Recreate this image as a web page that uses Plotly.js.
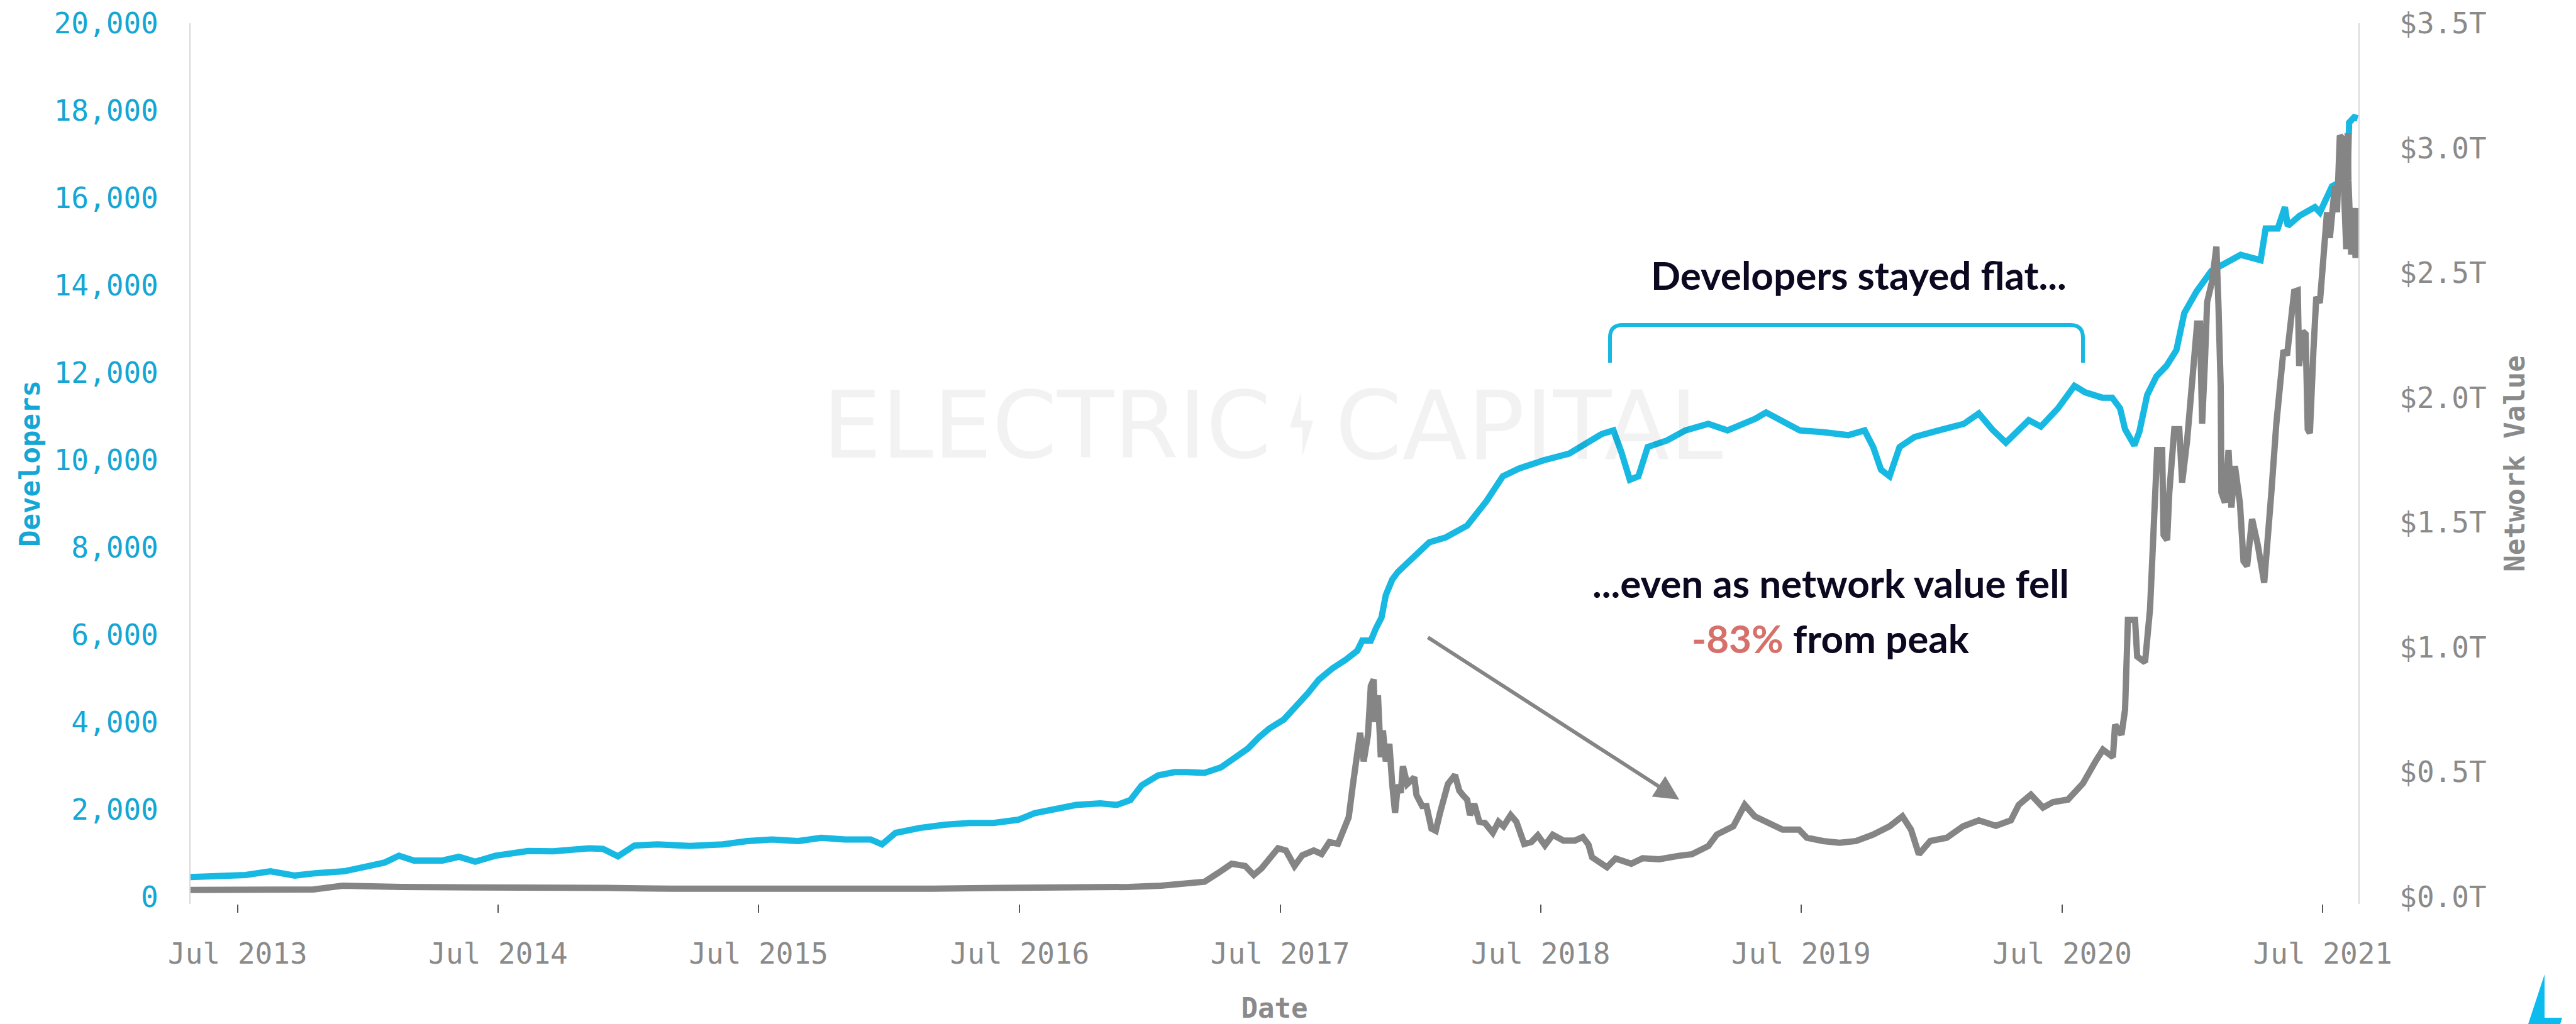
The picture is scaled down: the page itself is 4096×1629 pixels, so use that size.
<!DOCTYPE html>
<html>
<head>
<meta charset="utf-8">
<script src="https://cdn.plot.ly/plotly-3.0.1.min.js"></script>
<style>html,body{margin:0;padding:0;background:#fff;}#chart{width:4096px;height:1629px;}</style>
</head>
<body>
<div id="chart"></div>
<script>
// ---- Developers (monthly active developers) ----
const devDates = [
'2013-04-26','2013-05-20','2013-06-08','2013-07-12','2013-08-16','2013-09-19','2013-10-18','2013-11-27',
'2014-01-01','2014-01-23','2014-02-12','2014-03-05','2014-04-14','2014-05-07','2014-05-30','2014-06-27',
'2014-08-12','2014-09-16','2014-11-06','2014-11-25','2014-12-16','2015-01-08','2015-02-09','2015-03-27',
'2015-05-12','2015-06-15','2015-07-20','2015-08-25','2015-09-27','2015-10-30','2015-12-05','2015-12-21',
'2016-01-09','2016-02-12','2016-03-18','2016-04-21','2016-05-25','2016-06-29','2016-07-22','2016-08-14',
'2016-09-18','2016-10-22','2016-11-14','2016-12-03','2016-12-19','2017-01-11','2017-02-03','2017-02-19',
'2017-03-17','2017-04-09','2017-04-24','2017-05-17','2017-06-01','2017-06-16','2017-07-06','2017-07-21',
'2017-08-09','2017-08-24','2017-09-12','2017-10-01','2017-10-17','2017-10-24','2017-11-05','2017-11-12',
'2017-11-20','2017-11-26','2017-12-05','2017-12-13','2017-12-24','2018-01-05','2018-01-26','2018-02-18',
'2018-03-20','2018-04-16','2018-05-09','2018-06-01','2018-07-06','2018-08-10','2018-09-02','2018-09-25',
'2018-10-11','2018-10-22','2018-11-03','2018-11-15','2018-11-28','2018-12-25','2019-01-20','2019-02-21',
'2019-03-20','2019-04-27','2019-05-13','2019-06-06','2019-06-29','2019-08-01','2019-09-05','2019-09-28',
'2019-10-10','2019-10-21','2019-11-02','2019-11-16','2019-12-07','2020-01-10','2020-02-14','2020-03-06',
'2020-03-25','2020-04-13','2020-05-15','2020-06-01','2020-06-25','2020-07-18','2020-08-02','2020-08-26',
'2020-09-09','2020-09-20','2020-09-27','2020-10-10','2020-10-17','2020-10-28','2020-11-10','2020-11-24',
'2020-12-08','2020-12-19','2021-01-05','2021-01-26','2021-02-15','2021-03-08','2021-04-05','2021-04-12',
'2021-04-29','2021-05-09','2021-05-13','2021-05-30','2021-06-20','2021-06-27','2021-07-14','2021-07-28',
'2021-08-05','2021-08-07','2021-08-14','2021-08-19'
];
const devValues = [
455,470,490,502,588,490,543,588,
710,788,943,833,833,919,808,943,
1053,1045,1115,1100,931,1176,1203,1166,
1203,1278,1316,1278,1354,1316,1316,1203,
1466,1579,1654,1692,1692,1767,1918,1993,
2106,2143,2106,2218,2557,2782,2858,2858,
2842,2965,3148,3400,3650,3859,4060,4312,
4667,4973,5230,5432,5635,5868,5868,6143,
6398,6909,7264,7440,7620,7800,8120,8230,
8500,9060,9630,9810,10000,10150,10380,10600,
10680,10190,9550,9630,10300,10450,10680,10830,
10680,10940,11090,10870,10680,10640,10570,10680,
10300,9780,9630,10300,10530,10680,10830,11068,
10700,10400,10915,10768,11184,11700,11552,11429,
11429,11184,10706,10339,10645,11490,11919,12157,
12520,13365,13855,14333,14516,14700,14577,15300,
15300,15790,15360,15600,15790,15670,16268,16390,
16513,17726,17850,17825
];

// ---- Network value (trillions USD) ----
const netDates = [
'2013-04-26','2013-07-01','2013-10-15','2013-11-25','2013-12-20','2014-02-15','2014-06-01','2014-09-01',
'2014-12-01','2015-03-01','2015-06-01','2015-09-01','2015-12-01','2016-03-01','2016-06-01','2016-09-01',
'2016-12-01','2017-01-15','2017-02-15','2017-03-17','2017-04-05','2017-04-24','2017-05-13','2017-05-25',
'2017-06-05','2017-06-16','2017-06-28','2017-07-09','2017-07-21','2017-08-01','2017-08-17','2017-08-28',
'2017-09-08','2017-09-20','2017-09-27','2017-10-05','2017-10-11','2017-10-17','2017-10-21','2017-10-26',
'2017-11-01','2017-11-05','2017-11-09','2017-11-11','2017-11-15','2017-11-19','2017-11-22','2017-11-26',
'2017-12-01','2017-12-05','2017-12-09','2017-12-13','2017-12-17','2017-12-20','2017-12-26','2018-01-05',
'2018-01-08','2018-01-16','2018-01-22','2018-01-29','2018-02-04','2018-02-10','2018-02-16','2018-02-21',
'2018-03-03','2018-03-09','2018-03-14','2018-03-20','2018-03-24','2018-03-30','2018-04-06','2018-04-14',
'2018-04-25','2018-05-03','2018-05-10','2018-05-20','2018-05-28','2018-06-08','2018-06-18','2018-06-27',
'2018-07-07','2018-07-18','2018-08-02','2018-08-18','2018-08-29','2018-09-06','2018-09-11','2018-09-21',
'2018-10-02','2018-10-14','2018-10-25','2018-11-05','2018-11-21','2018-12-14','2019-01-11','2019-01-29',
'2019-02-21','2019-03-05','2019-03-28','2019-04-13','2019-04-27','2019-05-13','2019-06-05','2019-06-28',
'2019-07-09','2019-08-01','2019-08-24','2019-09-16','2019-10-10','2019-11-02','2019-11-20','2019-12-02',
'2019-12-13','2019-12-29','2020-01-21','2020-02-13','2020-03-06','2020-03-30','2020-04-20','2020-05-01',
'2020-05-18','2020-06-04','2020-06-18','2020-07-09','2020-07-30','2020-08-16','2020-08-27','2020-09-10',
'2020-09-13','2020-09-22','2020-09-27','2020-10-01','2020-10-11','2020-10-14','2020-10-25','2020-11-01',
'2020-11-04','2020-11-07','2020-11-11','2020-11-18','2020-11-20','2020-11-25','2020-11-28','2020-12-05',
'2020-12-12','2020-12-16','2020-12-23','2020-12-28','2021-01-02','2021-01-06','2021-01-10','2021-01-13',
'2021-01-17','2021-01-20','2021-01-27','2021-02-02','2021-02-05','2021-02-08','2021-02-09','2021-02-14',
'2021-02-19','2021-02-23','2021-02-28','2021-03-07','2021-03-12','2021-03-17','2021-03-24','2021-04-01',
'2021-04-10','2021-04-15','2021-04-20','2021-04-27','2021-05-02','2021-05-07','2021-05-12','2021-05-17',
'2021-05-22','2021-05-27','2021-05-29','2021-06-03','2021-06-07','2021-06-10','2021-06-13','2021-06-18',
'2021-06-22','2021-06-27','2021-07-02','2021-07-07','2021-07-11','2021-07-18','2021-07-21','2021-07-25',
'2021-07-28','2021-08-01','2021-08-03','2021-08-05','2021-08-06','2021-08-10','2021-08-13','2021-08-16',
'2021-08-19'
];
const netValues = [
0.028,0.028,0.030,0.045,0.042,0.040,0.038,0.040,
0.036,0.033,0.032,0.031,0.032,0.033,0.036,0.037,
0.040,0.045,0.050,0.061,0.096,0.133,0.124,0.088,
0.115,0.150,0.195,0.186,0.124,0.167,0.186,0.172,
0.220,0.213,0.257,0.319,0.452,0.586,0.657,0.543,
0.649,0.845,0.871,0.701,0.808,0.560,0.667,0.543,
0.613,0.452,0.337,0.450,0.417,0.524,0.452,0.479,
0.408,0.364,0.364,0.274,0.265,0.337,0.408,0.452,
0.489,0.426,0.408,0.390,0.328,0.373,0.301,0.296,
0.257,0.301,0.283,0.328,0.301,0.212,0.220,0.247,
0.207,0.249,0.226,0.226,0.240,0.210,0.159,0.142,
0.119,0.154,0.142,0.133,0.155,0.151,0.165,0.171,
0.204,0.250,0.283,0.369,0.323,0.303,0.270,0.270,
0.237,0.224,0.217,0.224,0.250,0.283,0.323,0.270,
0.171,0.224,0.237,0.283,0.307,0.285,0.307,0.369,
0.410,0.358,0.380,0.390,0.455,0.540,0.590,0.560,
0.690,0.650,0.750,1.110,1.110,0.963,0.940,1.154,
1.407,1.535,1.790,1.790,1.450,1.430,1.620,1.874,
1.874,1.660,1.830,2.020,2.130,2.297,2.297,1.896,
2.149,2.383,2.467,2.605,2.360,2.044,1.620,1.580,
1.790,1.560,1.726,1.577,1.345,1.325,1.514,1.410,
1.259,1.410,1.620,1.896,2.065,2.190,2.170,2.277,
2.425,2.430,2.127,2.266,2.255,1.874,1.858,2.190,
2.404,2.380,2.573,2.743,2.640,2.848,2.743,3.050,
3.040,2.780,2.595,3.060,2.870,2.573,2.760,2.560,
2.760
];

const xRange = ['2013-04-26','2021-08-20'];
const devTicks = [0,2000,4000,6000,8000,10000,12000,14000,16000,18000,20000];
const netTicks = [0,0.5,1.0,1.5,2.0,2.5,3.0,3.5];
const netTickText = ['$0.0T','$0.5T','$1.0T','$1.5T','$2.0T','$2.5T','$3.0T','$3.5T'];

// ---- layout geometry (pixels) ----
const W = 4096, H = 1629;
const L = 303, R = 3750, T = 37, B = 1438;
const px = x => (x - L) / (R - L);
const py = y => (B - y) / (B - T);
const pt = (x, y) => px(x).toFixed(5) + ',' + py(y).toFixed(5);

const BLUE = '#17b8e2', GRAY = '#858585', BLUE_TXT = '#14a6d4', GRAY_TXT = '#8a8a8a';
const MONO = 'DejaVu Sans Mono, monospace';
const SANS = 'Lato, Open Sans, sans-serif';

const traces = [
  {x: devDates, y: devValues, type: 'scatter', mode: 'lines', name: 'Developers',
   line: {color: BLUE, width: 10}, yaxis: 'y', hoverinfo: 'skip'},
  {x: netDates, y: netValues, type: 'scatter', mode: 'lines', name: 'Network Value',
   line: {color: GRAY, width: 10}, yaxis: 'y2', hoverinfo: 'skip'}
];

const bracket = 'M' + pt(2560,577) + ' L' + pt(2560,537) + ' Q' + pt(2560,517) + ' ' + pt(2580,517) +
  ' L' + pt(3292,517) + ' Q' + pt(3312,517) + ' ' + pt(3312,537) + ' L' + pt(3312,577);
const bolt = 'M' + pt(2069,623) + ' L' + pt(2051,680) + ' L' + pt(2071,680) + ' L' + pt(2071,726) +
  ' L' + pt(2088,669) + ' L' + pt(2069,669) + ' Z';
const logo = 'M' + pt(4046,1550) + ' L' + pt(4046,1619) + ' L' + pt(4074,1619) + ' L' + pt(4071,1629) +
  ' L' + pt(4020,1629) + ' Z';

const layout = {
  width: W, height: H,
  margin: {l: L, r: W - R, t: T, b: H - B, pad: 0},
  paper_bgcolor: '#ffffff', plot_bgcolor: 'rgba(0,0,0,0)',
  showlegend: false,
  font: {family: MONO, color: GRAY_TXT},
  xaxis: {
    type: 'date', range: xRange, showgrid: false, zeroline: false, showline: false,
    tick0: '2013-07-01', dtick: 'M12', tickformat: '%b %Y',
    ticks: 'outside', ticklen: 13, tickwidth: 2, tickcolor: '#555555',
    ticklabelstandoff: 26,
    tickfont: {family: MONO, size: 46, color: GRAY_TXT},
    title: {text: 'Date', font: {family: MONO, size: 44, color: GRAY_TXT, weight: 'bold'}, standoff: 50},
    automargin: false
  },
  yaxis: {
    range: [-160, 20000], tickvals: devTicks, tickformat: ',d',
    showgrid: false, zeroline: false, showline: true, linecolor: '#d9d9d9', linewidth: 2,
    ticks: '', ticklabelstandoff: 40,
    tickfont: {family: MONO, size: 46, color: BLUE_TXT},
    title: {text: 'Developers', font: {family: MONO, size: 44, color: BLUE_TXT, weight: 'bold'}, standoff: 8},
    automargin: false
  },
  yaxis2: {
    range: [-0.028, 3.5], tickvals: netTicks, ticktext: netTickText,
    overlaying: 'y', side: 'right',
    showgrid: false, zeroline: false, showline: true, linecolor: '#d9d9d9', linewidth: 2,
    ticks: '', ticklabelstandoff: 54,
    tickfont: {family: MONO, size: 46, color: GRAY_TXT},
    title: {text: 'Network Value', font: {family: MONO, size: 44, color: GRAY_TXT, weight: 'bold'}, standoff: 31},
    automargin: false
  },
  shapes: [
    {type: 'path', xref: 'paper', yref: 'paper', path: bolt, fillcolor: 'rgba(0,0,0,0.05)',
     line: {width: 0}, layer: 'below'},
    {type: 'path', xref: 'paper', yref: 'paper', path: bracket, line: {color: BLUE, width: 6}},
    {type: 'path', xref: 'paper', yref: 'paper', path: logo, fillcolor: '#0cbcef', line: {width: 0}}
  ],
  annotations: [
    {xref: 'paper', yref: 'paper', x: px(1664), y: py(677), text: 'ELECTRIC', showarrow: false,
     xanchor: 'center', yanchor: 'middle', font: {family: 'DejaVu Sans, sans-serif', size: 148, color: 'rgba(0,0,0,0.05)'}},
    {xref: 'paper', yref: 'paper', x: px(2431), y: py(677), text: 'CAPITAL', showarrow: false,
     xanchor: 'center', yanchor: 'middle', font: {family: 'DejaVu Sans, sans-serif', size: 152, color: 'rgba(0,0,0,0.05)'}},
    {xref: 'paper', yref: 'paper', x: px(2955), y: py(437), text: 'Developers stayed flat...', showarrow: false,
     xanchor: 'center', yanchor: 'middle', font: {family: SANS, size: 62, color: '#0b0820', weight: 'bold'}},
    {xref: 'paper', yref: 'paper', x: px(2911), y: py(927), text: '...even as network value fell', showarrow: false,
     xanchor: 'center', yanchor: 'middle', font: {family: SANS, size: 62, color: '#0b0820', weight: 'bold'}},
    {xref: 'paper', yref: 'paper', x: px(2911), y: py(1015),
     text: '<span style="color:#d6706a">-83%</span> from peak', showarrow: false,
     xanchor: 'center', yanchor: 'middle', font: {family: SANS, size: 62, color: '#0b0820', weight: 'bold'}},
    {xref: 'paper', yref: 'paper', x: px(2670), y: py(1272), text: '', showarrow: true,
     axref: 'pixel', ayref: 'pixel', ax: 2269 - 2670, ay: 1013 - 1272,
     arrowhead: 2, arrowsize: 1.3, arrowwidth: 6, arrowcolor: GRAY, standoff: 0, startstandoff: 0}
  ]
};

Plotly.newPlot('chart', traces, layout, {staticPlot: true, displayModeBar: false});
</script>
</body>
</html>
